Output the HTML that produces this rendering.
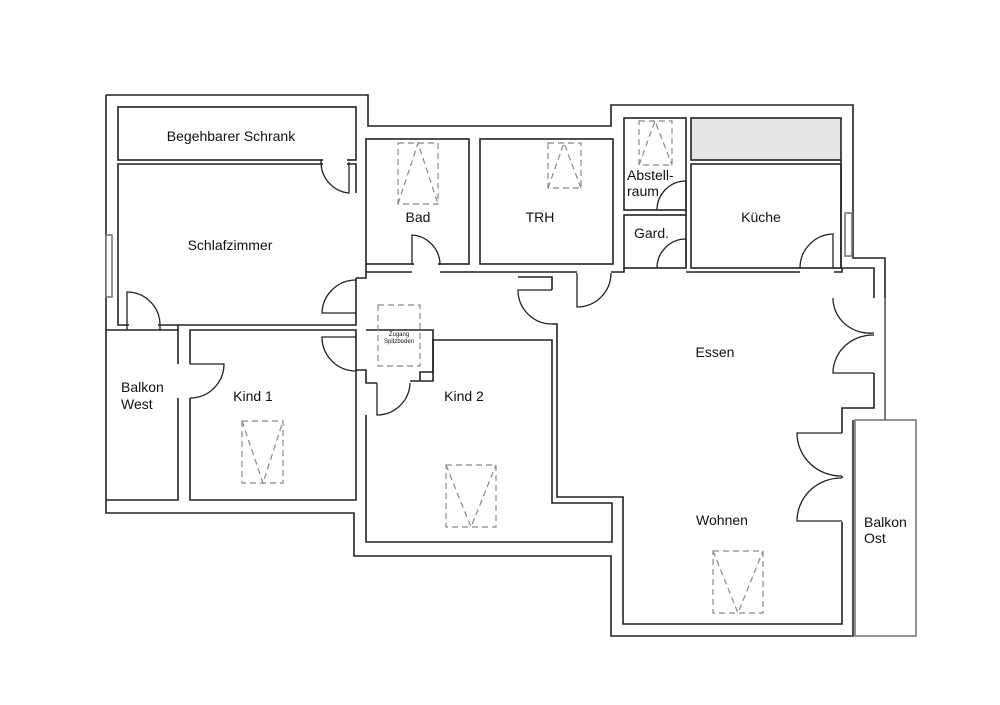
<!DOCTYPE html>
<html><head><meta charset="utf-8"><style>
html,body{margin:0;padding:0;background:#fff}
svg{display:block}
text{font-family:"Liberation Sans",sans-serif;fill:#111}
</style></head><body>
<svg width="1000" height="705" viewBox="0 0 1000 705" xmlns="http://www.w3.org/2000/svg">
<g fill="none" stroke="#222" stroke-width="1.6">
<polyline points="106,95 368,95 368,126 611,126 611,105 853,105 853,258 885,258 885,420"/>
<polyline points="853,420 853,636 611,636 611,556 354,556 354,513 106,513 106,95"/>
<rect x="118" y="107" width="238" height="53"/>
<polyline points="356,193 356,164 118,164 118,325 356,325 356,278"/>
<rect x="366" y="139" width="103" height="125"/>
<rect x="480" y="139" width="133" height="125"/>
<rect x="624" y="118" width="62" height="92"/>
<rect x="624" y="215" width="62" height="53"/>
<rect x="691" y="118" width="150" height="42" fill="#e6e6e6"/>
<rect x="691" y="164" width="150" height="104"/>
<polyline points="190,364 190,330 356,330 356,500 190,500 190,398"/>
<polyline points="178,364 178,330 106,330"/>
<polyline points="178,398 178,500 106,500"/>
<polyline points="356,370 366,370 366,383 377,383"/>
<polyline points="178,330 178,325"/>
<polyline points="410,381 433,381 433,340 552,340 552,503 612,503 612,542 366,542 366,415"/>
<polyline points="420,381 420,372 433,372 433,330 366,330"/>
<polyline points="366,264 366,272 412,272"/>
<polyline points="440,272 577,272"/>
<polyline points="356,278 366,278 366,272"/>
<polyline points="611,272 624,272 624,268"/>
<polyline points="686,272 800,272"/>
<polyline points="834,272 842,272 842,268 874,268 874,298"/>
<line x1="841" y1="160" x2="841" y2="268"/>
<line x1="686" y1="210" x2="686" y2="215"/>
<polyline points="552,324 557,324 557,497 623,497 623,624 842,624 842,522"/>
<polyline points="552,290 552,277 518,277"/>
<polyline points="874,373 874,375 874,408 842,408 842,433"/>
<line x1="842" y1="476" x2="842" y2="478"/>
<rect x="855" y="420" width="61" height="216" stroke="#777"/>
<line x1="885" y1="298" x2="885" y2="420" stroke="#777"/>
<rect x="106" y="235" width="6" height="62" stroke="#777" fill="#fff"/>
<rect x="845" y="213" width="7" height="43" stroke="#777" fill="#fff"/>
</g>
<!-- door gaps -->
<g fill="#fff" stroke="none">
<rect x="323" y="158" width="24" height="8"/>
<rect x="129" y="323" width="29" height="4"/>
<rect x="414" y="262" width="24" height="4"/>
</g>
<g fill="none" stroke="#222" stroke-width="1.3">
<line x1="321" y1="160" x2="321" y2="164"/>
<line x1="127" y1="325" x2="127" y2="330"/>
<line x1="160" y1="325" x2="160" y2="330"/>
<path d="M349,162 L349,193 A31,31 0 0 1 321,162"/>
<path d="M127,325 L127,292 A33,33 0 0 1 160,325"/>
<path d="M412,265 L412,235 A30,30 0 0 1 440,265"/>
<path d="M356,313 L322,313 A34,34 0 0 1 356,280"/>
<path d="M356,337 L322,337 A34,34 0 0 0 356,371"/>
<path d="M377,383 L377,415 A33,33 0 0 0 410,383"/>
<path d="M190,364 L224,364 A34,34 0 0 1 190,398"/>
<path d="M577,273 L577,307 A34,34 0 0 0 611,273"/>
<path d="M552,290 L518,290 A34,34 0 0 0 552,324"/>
<path d="M686,210 L686,181 A29,29 0 0 0 657,210"/>
<path d="M686,268 L686,239 A29,29 0 0 0 657,268"/>
<path d="M833,268 L833,234 A34,34 0 0 0 800,268"/>
<path d="M833,298 A37,35 0 0 0 874,333"/>
<path d="M874,373 L833,373 A40,38 0 0 1 874,335"/>
<path d="M842,433 L797,433 A44,43 0 0 0 842,476"/>
<path d="M842,521 L797,521 A44,43 0 0 1 842,478"/>
</g>
<g fill="none" stroke="#888" stroke-width="1.2" stroke-dasharray="6,4">
<rect x="398" y="143" width="40" height="61"/><polyline points="398,204 418,143 438,204"/>
<rect x="548" y="143" width="33" height="45"/><polyline points="548,188 564,143 581,188"/>
<rect x="639" y="121" width="33" height="44"/><polyline points="639,165 655,121 672,165"/>
<rect x="378" y="305" width="42" height="61"/>
<rect x="242" y="421" width="41" height="62"/><polyline points="242,421 263,483 283,421"/>
<rect x="446" y="465" width="50" height="62"/><polyline points="446,465 471,527 496,465"/>
<rect x="713" y="551" width="50" height="62"/><polyline points="713,551 738,613 763,551"/>
</g>
<g font-size="14">
<text x="231" y="141" text-anchor="middle">Begehbarer Schrank</text>
<text x="230" y="250" text-anchor="middle">Schlafzimmer</text>
<text x="418" y="222" text-anchor="middle">Bad</text>
<text x="540" y="222" text-anchor="middle">TRH</text>
<text x="627" y="180">Abstell-</text>
<text x="627" y="196">raum</text>
<text x="634" y="238">Gard.</text>
<text x="761" y="222" text-anchor="middle">Küche</text>
<text x="715" y="357" text-anchor="middle">Essen</text>
<text x="722" y="525" text-anchor="middle">Wohnen</text>
<text x="121" y="392">Balkon</text>
<text x="121" y="409">West</text>
<text x="253" y="401" text-anchor="middle">Kind 1</text>
<text x="464" y="401" text-anchor="middle">Kind 2</text>
<text x="864" y="527">Balkon</text>
<text x="864" y="543">Ost</text>
</g>
<text x="399" y="336" font-size="6" text-anchor="middle">Zugang</text>
<text x="399" y="343" font-size="6" text-anchor="middle">Spitzboden</text>
</svg>
</body></html>
